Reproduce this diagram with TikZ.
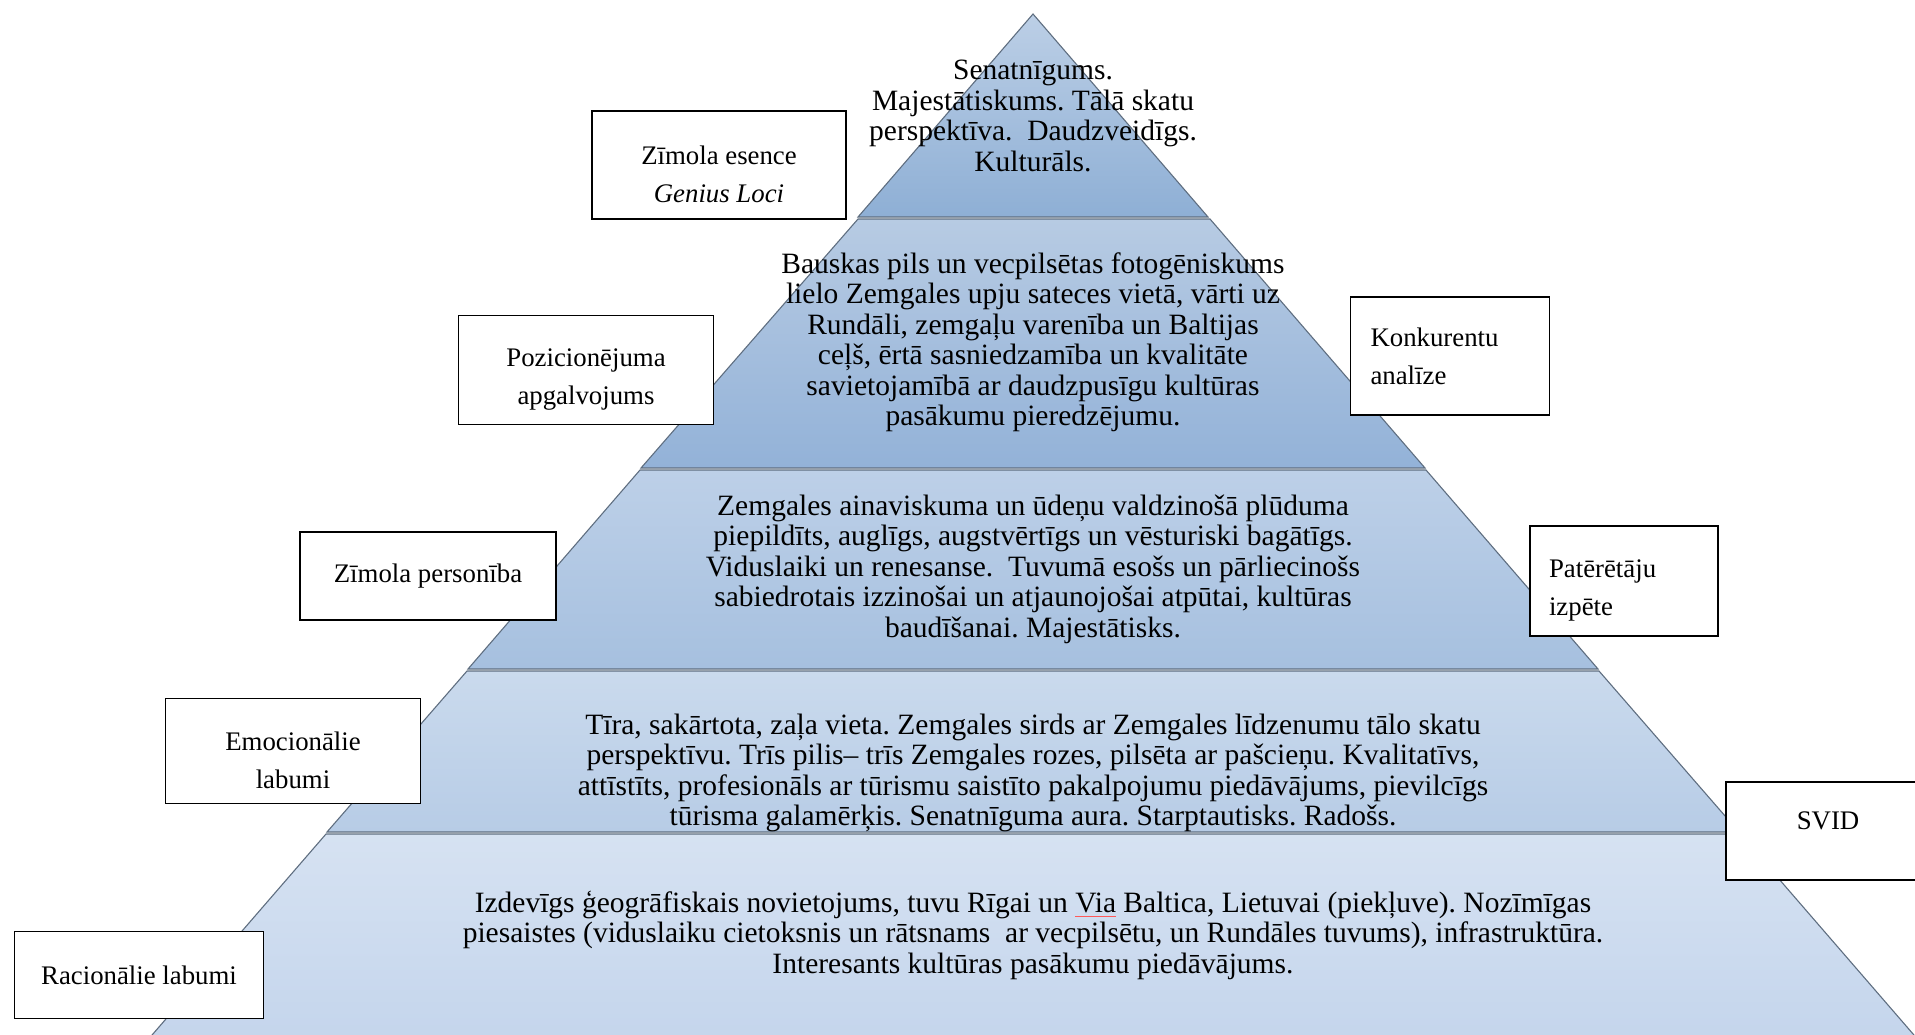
\documentclass[tikz,border=0pt]{standalone}
\usepackage{fontspec}
\setmainfont{Liberation Serif}
\definecolor{edgegrey}{HTML}{5F6E80}
\definecolor{lvlAtop}{HTML}{BCCFE6}
\definecolor{lvlAbot}{HTML}{8EAFD5}
\definecolor{lvlBtop}{HTML}{B7CBE3}
\definecolor{lvlBbot}{HTML}{93B2D8}
\definecolor{lvlCtop}{HTML}{BDD0E8}
\definecolor{lvlCbot}{HTML}{A6C0DF}
\definecolor{lvlDtop}{HTML}{CADAED}
\definecolor{lvlDbot}{HTML}{B7CCE6}
\definecolor{lvlEtop}{HTML}{D6E2F2}
\definecolor{lvlEbot}{HTML}{C4D5EC}
\newcommand\spellmark[1]{\setbox0\hbox{#1}\rlap{\textcolor{red!65}{\rule[-5pt]{\wd0}{0.9pt}}}\box0\relax}
\newcommand\padtop{\rule{0pt}{37pt}}
\newcommand\padbot{\rule[-20pt]{0pt}{20pt}}
\setlength{\lineskiplimit}{-100pt}
\frenchspacing
\begin{document}
\begin{tikzpicture}[x=1pt,y=-1pt,
	layer/.style={draw=edgegrey,line width=1.1pt},
	lvltext/.style={align=center,font=\fontsize{29.5}{30.5}\selectfont},
	labelbox/.style={draw=black,line width=1.6pt,fill=white,align=center,
		font=\fontsize{26.8}{38}\selectfont}]
	\useasboundingbox (0,0) rectangle (1915,1034);
	% pyramid layers
	\shade[layer,top color=lvlAtop,bottom color=lvlAbot] (1033,14) -- (1208,217) -- (858,217) -- cycle;
	\shade[layer,top color=lvlBtop,bottom color=lvlBbot] (858,219) -- (1210,219) -- (1425,468) -- (641,468) -- cycle;
	\shade[layer,top color=lvlCtop,bottom color=lvlCbot] (640,470) -- (1426,470) -- (1598,669) -- (468,669) -- cycle;
	\shade[layer,top color=lvlDtop,bottom color=lvlDbot] (467,671) -- (1599,671) -- (1739,832) -- (327,832) -- cycle;
	\shade[layer,top color=lvlEtop,bottom color=lvlEbot] (326,834) -- (1740,834) -- (1920,1042) -- (146,1042) -- cycle;
	% texts in the layers
	\node[lvltext] (essence) at (1033,116) {Senatnīgums.\\Majestātiskums. Tālā skatu\\perspektīva.\ \ Daudzveidīgs.\\Kulturāls.};
	\node[lvltext] (position) at (1033,342) {Bauskas pils un vecpilsētas fotogēniskums\\lielo Zemgales upju sateces vietā, vārti uz\\Rundāli, zemgaļu varenība un Baltijas\\ceļš, ērtā sasniedzamība un kvalitāte\\savietojamībā ar daudzpusīgu kultūras\\pasākumu pieredzējumu.};
	\node[lvltext] (personality) at (1033,569) {Zemgales ainaviskuma un ūdeņu valdzinošā plūduma\\piepildīts, auglīgs, augstvērtīgs un vēsturiski bagātīgs.\\Viduslaiki un renesanse.\ \ Tuvumā esošs un pārliecinošs\\sabiedrotais izzinošai un atjaunojošai atpūtai, kultūras\\baudīšanai. Majestātisks.};
	\node[lvltext] (emotional) at (1033,773) {Tīra, sakārtota, zaļa vieta. Zemgales sirds ar Zemgales līdzenumu tālo skatu\\perspektīvu. Trīs pilis– trīs Zemgales rozes, pilsēta ar pašcieņu. Kvalitatīvs,\\attīstīts, profesionāls ar tūrismu saistīto pakalpojumu piedāvājums, pievilcīgs\\tūrisma galamērķis. Senatnīguma aura. Starptautisks. Radošs.};
	\node[lvltext] (rational) at (1033,935) {Izdevīgs ģeogrāfiskais novietojums, tuvu Rīgai un \spellmark{Via} Baltica, Lietuvai (piekļuve). Nozīmīgas\\piesaistes (viduslaiku cietoksnis un rātsnams\ \ ar vecpilsētu, un Rundāles tuvums), infrastruktūra.\\Interesants kultūras pasākumu piedāvājums.};
	% label boxes
	\node[labelbox,minimum width=254pt,minimum height=108pt] (essencebox) at (719,165) {\padtop Zīmola esence\\\textit{Genius Loci}};
	\node[labelbox,minimum width=255pt,minimum height=109pt] (positionbox) at (586,370) {\padtop Pozicionējuma\\apgalvojums};
	\node[labelbox,minimum width=199pt,minimum height=118pt,align=left,text width=159pt] (competitors) at (1450,356) {Konkurentu\\analīze};
	\node[labelbox,minimum width=256pt,minimum height=88pt] (personalitybox) at (428,576) {Zīmola personība};
	\node[labelbox,minimum width=188pt,minimum height=110pt,align=left,text width=150pt] (consumers) at (1624,581) {\padtop Patērētāju\\izpēte};
	\node[labelbox,minimum width=255pt,minimum height=105pt] (emotionalbox) at (293,751) {\padtop Emocionālie\\labumi};
	\node[labelbox,minimum width=204pt,minimum height=98pt] (svid) at (1828,831) {SVID\padbot};
	\node[labelbox,minimum width=249pt,minimum height=87pt] (rationalbox) at (139,975) {Racionālie labumi};
\end{tikzpicture}
\end{document}
